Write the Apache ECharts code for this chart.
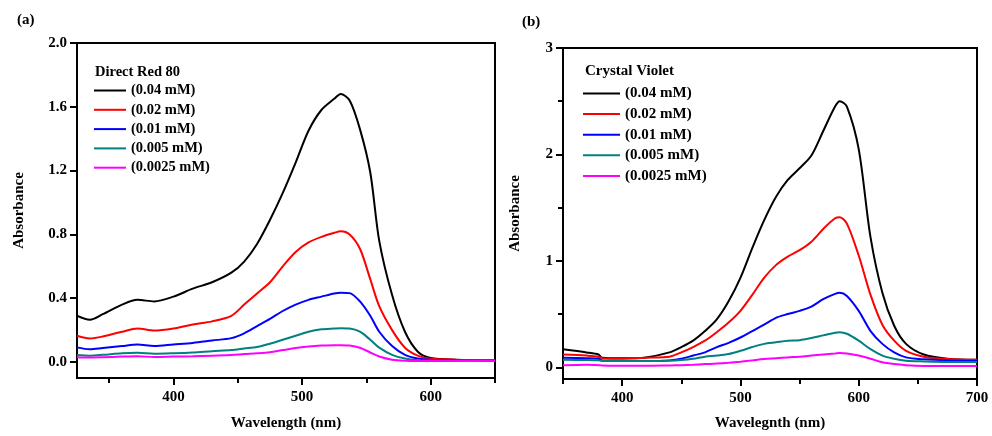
<!DOCTYPE html>
<html>
<head>
<meta charset="utf-8">
<script src="https://cdn.jsdelivr.net/npm/echarts@6/dist/echarts.min.js"></script>
<style>
  html, body { margin: 0; padding: 0; background: #fff; }
  #main { width: 992px; height: 436px; }
</style>
</head>
<body>
<div id="main"></div>
<script>
// 系列名称与颜色
var seriesNames = ["(0.04 mM)", "(0.02 mM)", "(0.01 mM)", "(0.005 mM)", "(0.0025 mM)"];
var seriesColors = ["#000000", "#ff0000", "#0000ff", "#008080", "#ff00ff"];

// (a) Direct Red 80 波长
var wlA = [325, 335, 345, 360, 372, 385, 400, 415, 430, 445, 455, 465, 475, 485, 495,
  505, 515, 525, 530, 537, 545, 553, 560, 570, 580, 590, 600, 620, 650];
var drBlack = [0.29, 0.265, 0.30, 0.36, 0.39, 0.38, 0.41, 0.46, 0.50, 0.56, 0.63, 0.74, 0.89, 1.06, 1.25,
  1.45, 1.58, 1.65, 1.68, 1.64, 1.46, 1.19, 0.76, 0.42, 0.19, 0.065, 0.025, 0.015, 0.012];
var drRed = [0.165, 0.148, 0.16, 0.19, 0.21, 0.197, 0.21, 0.235, 0.255, 0.29, 0.36, 0.43, 0.50, 0.60, 0.69,
  0.75, 0.785, 0.81, 0.82, 0.80, 0.71, 0.52, 0.35, 0.20, 0.09, 0.04, 0.02, 0.015, 0.012];
var drBlue = [0.092, 0.08, 0.088, 0.10, 0.11, 0.10, 0.11, 0.12, 0.135, 0.15, 0.18, 0.225, 0.27, 0.32, 0.36,
  0.39, 0.41, 0.43, 0.435, 0.432, 0.38, 0.29, 0.19, 0.10, 0.045, 0.022, 0.015, 0.012, 0.01];
var drTeal = [0.044, 0.04, 0.045, 0.055, 0.058, 0.052, 0.055, 0.06, 0.068, 0.075, 0.085, 0.095, 0.115, 0.14, 0.165,
  0.19, 0.205, 0.21, 0.212, 0.21, 0.19, 0.14, 0.09, 0.045, 0.022, 0.012, 0.01, 0.01, 0.01];
var drPink = [0.03, 0.028, 0.03, 0.034, 0.036, 0.032, 0.034, 0.036, 0.04, 0.044, 0.05, 0.055, 0.062, 0.075, 0.088,
  0.097, 0.103, 0.106, 0.106, 0.104, 0.09, 0.06, 0.035, 0.015, 0.008, 0.006, 0.006, 0.007, 0.008];

// (b) Crystal Violet 波长
var wlB = [350, 370, 380, 383, 400, 420, 440, 450, 460, 470, 480, 490, 500, 510, 520, 530,
  540, 550, 560, 570, 580, 584, 590, 600, 610, 620, 630, 640, 655, 675, 700];
var cvBlack = [0.17, 0.14, 0.12, 0.09, 0.084, 0.093, 0.14, 0.19, 0.25, 0.34, 0.45, 0.62, 0.84, 1.12, 1.38, 1.60,
  1.76, 1.87, 1.99, 2.22, 2.45, 2.50, 2.45, 2.05, 1.22, 0.70, 0.39, 0.22, 0.12, 0.08, 0.07];
var cvRed = [0.12, 0.11, 0.10, 0.085, 0.08, 0.09, 0.10, 0.14, 0.19, 0.25, 0.33, 0.42, 0.53, 0.68, 0.84, 0.96,
  1.04, 1.10, 1.18, 1.30, 1.40, 1.41, 1.35, 1.05, 0.68, 0.40, 0.25, 0.155, 0.10, 0.078, 0.07];
var cvBlue = [0.09, 0.085, 0.08, 0.065, 0.06, 0.06, 0.065, 0.08, 0.11, 0.14, 0.19, 0.23, 0.28, 0.34, 0.40, 0.465,
  0.50, 0.53, 0.57, 0.64, 0.69, 0.70, 0.67, 0.53, 0.34, 0.22, 0.14, 0.093, 0.075, 0.065, 0.06];
var cvTeal = [0.07, 0.068, 0.065, 0.06, 0.06, 0.06, 0.062, 0.068, 0.08, 0.10, 0.11, 0.125, 0.155, 0.19, 0.22, 0.235,
  0.25, 0.255, 0.275, 0.30, 0.325, 0.33, 0.315, 0.25, 0.17, 0.11, 0.08, 0.062, 0.055, 0.05, 0.05];
var cvPink = [0.02, 0.025, 0.02, 0.018, 0.015, 0.015, 0.018, 0.02, 0.024, 0.03, 0.035, 0.043, 0.053, 0.065, 0.077, 0.085,
  0.093, 0.10, 0.11, 0.12, 0.13, 0.135, 0.13, 0.11, 0.08, 0.047, 0.03, 0.02, 0.013, 0.012, 0.012];

// 刻度
var xTicksA = [400, 500, 600];
var xMinorA = [350, 450, 550, 650];
var yTicksA = [0, 0.4, 0.8, 1.2, 1.6, 2.0];
var xTicksB = [400, 500, 600, 700];
var xMinorB = [350, 450, 550, 650];
var yTicksB = [0, 1, 2, 3];
var yMinorB = [0.5, 1.5, 2.5];

var FONT = "Liberation Serif";

function pairs(xs, ys) {
  return xs.map(function (x, i) { return [x, ys[i]]; });
}

function majorAxis(gridIndex, min, max, ticks, extra) {
  var axis = {
    type: "value",
    gridIndex: gridIndex,
    min: min,
    max: max,
    offset: 0,
    splitLine: { show: false },
    axisLine: { show: true, onZero: false, lineStyle: { color: "#000", width: 2 } },
    axisTick: { show: true, inside: false, length: 7, customValues: ticks, lineStyle: { color: "#000", width: 2 } },
    nameTextStyle: { color: "#000", fontFamily: FONT, fontWeight: "bold", fontSize: 15 },
    nameLocation: "middle"
  };
  for (var k in extra) axis[k] = extra[k];
  return axis;
}

// 次刻度轴（无标签）
function minorAxis(gridIndex, min, max, ticks, position) {
  return {
    type: "value",
    gridIndex: gridIndex,
    position: position,
    offset: 0,
    min: min,
    max: max,
    splitLine: { show: false },
    axisLine: { show: false, onZero: false },
    axisTick: { show: true, inside: false, length: 5, customValues: ticks, lineStyle: { color: "#000", width: 2 } },
    axisLabel: { show: false }
  };
}

function makeSeries(xIdx, yIdx, xs, list) {
  return list.map(function (ys, i) {
    return {
      name: seriesNames[i],
      type: "line",
      xAxisIndex: xIdx,
      yAxisIndex: yIdx,
      symbol: "none",
      smooth: 0.3,
      lineStyle: { color: seriesColors[i], width: 2 },
      itemStyle: { color: seriesColors[i] },
      data: pairs(xs, ys)
    };
  });
}

var myChart = echarts.init(document.getElementById("main"));

myChart.setOption({
  animation: false,
  backgroundColor: "#fff",
  grid: [
    { left: 77, top: 43, width: 418, height: 336, show: true, borderColor: "#000", borderWidth: 2, backgroundColor: "transparent" },
    { left: 563, top: 48, width: 414, height: 334, show: true, borderColor: "#000", borderWidth: 2, backgroundColor: "transparent" }
  ],
  xAxis: [
    majorAxis(0, 325, 650, xTicksA, { position: "bottom", name: "Wavelength (nm)", nameGap: 38, axisLabel: {
      customValues: xTicksA, color: "#000", fontFamily: FONT, fontWeight: "bold", fontSize: 15, margin: 12 } }),
    minorAxis(0, 325, 650, xMinorA, "bottom"),
    majorAxis(1, 350, 700, xTicksB, { position: "bottom", name: "Wavelegnth (nm)", nameGap: 37, axisLabel: {
      customValues: xTicksB, color: "#000", fontFamily: FONT, fontWeight: "bold", fontSize: 15, margin: 12 } }),
    minorAxis(1, 350, 700, xMinorB, "bottom")
  ],
  yAxis: [
    majorAxis(0, -0.1, 2.0, yTicksA, { position: "left", name: "Absorbance", nameGap: 50, axisLabel: {
      customValues: yTicksA, color: "#000", fontFamily: FONT, fontWeight: "bold", fontSize: 15, margin: 10,
      formatter: function (v) { return v.toFixed(1); } } }),
    majorAxis(1, -0.11, 3, yTicksB, { position: "left", name: "Absorbance", nameGap: 40, axisLabel: {
      customValues: yTicksB, color: "#000", fontFamily: FONT, fontWeight: "bold", fontSize: 15, margin: 10 } }),
    minorAxis(1, -0.11, 3, yMinorB, "left")
  ],
  legend: [
    {
      orient: "vertical",
      left: 94,
      top: 83,
      padding: 0,
      icon: "rect",
      itemWidth: 32,
      itemHeight: 2,
      itemGap: 4.3,
      data: seriesNames,
      textStyle: { color: "#000", fontFamily: FONT, fontWeight: "bold", fontSize: 14.5, lineHeight: 14 }
    },
    {
      orient: "vertical",
      left: 583,
      top: 86,
      padding: 0,
      icon: "rect",
      itemWidth: 37,
      itemHeight: 2,
      itemGap: 5.6,
      data: seriesNames,
      textStyle: { color: "#000", fontFamily: FONT, fontWeight: "bold", fontSize: 15, lineHeight: 14 }
    }
  ],
  graphic: [
    { type: "text", left: 17, top: 13, style: { text: "(a)", fill: "#000", font: "bold 15px " + FONT } },
    { type: "text", left: 522, top: 15, style: { text: "(b)", fill: "#000", font: "bold 15px " + FONT } },
    { type: "text", left: 95, top: 65, style: { text: "Direct Red 80", fill: "#000", font: "bold 14.5px " + FONT } },
    { type: "text", left: 585, top: 64, style: { text: "Crystal Violet", fill: "#000", font: "bold 15px " + FONT } }
  ],
  series: makeSeries(0, 0, wlA, [drBlack, drRed, drBlue, drTeal, drPink])
    .concat(makeSeries(2, 1, wlB, [cvBlack, cvRed, cvBlue, cvTeal, cvPink]))
});
</script>
</body>
</html>
